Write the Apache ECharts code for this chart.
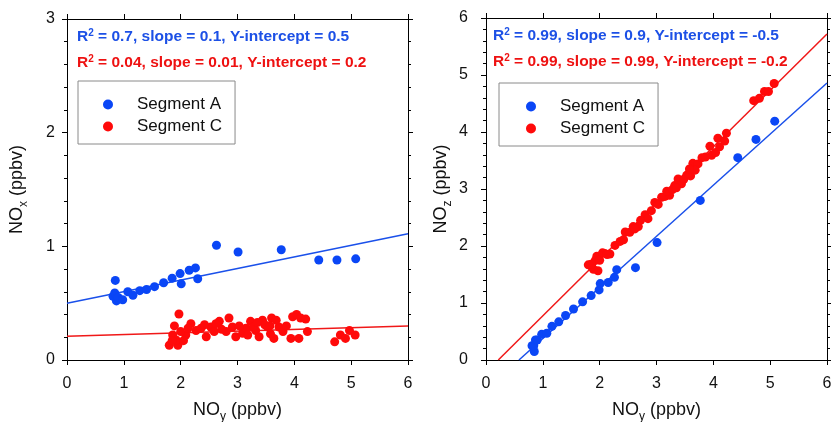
<!DOCTYPE html>
<html><head><meta charset="utf-8">
<script src="https://cdn.jsdelivr.net/npm/echarts@6/dist/echarts.min.js"></script>
<style>html,body{margin:0;padding:0;background:#fff}#c{width:831px;height:422px}</style>
</head><body><div id="c"></div>
<script>
// Segment A
const noyA = [0.85,0.81,0.84,0.87,0.90,0.98,1.07,1.16,1.28,1.40,1.54,1.70,1.85,1.99,2.01,2.15,2.26,2.30,2.63,3.01,3.77,4.43,4.75,5.08];
const noxA = [0.70,0.56,0.59,0.52,0.55,0.53,0.60,0.57,0.61,0.62,0.645,0.68,0.72,0.76,0.67,0.79,0.81,0.715,1.01,0.95,0.97,0.88,0.88,0.89];
const nozA = [0.15,0.25,0.25,0.35,0.35,0.45,0.47,0.59,0.67,0.78,0.895,1.02,1.13,1.23,1.34,1.36,1.45,1.585,1.62,2.06,2.80,3.55,3.87,4.19];
// Segment C
const noyC = [1.97,1.89,1.86,1.80,1.95,1.92,2.09,2.18,2.27,2.36,2.45,2.53,2.68,2.59,2.80,2.85,2.91,2.97,3.09,3.15,3.23,3.32,3.38,3.44,3.53,3.60,3.64,3.73,3.80,3.94,3.97,4.04,4.08,4.11,4.20,4.23,4.71,4.81,4.90,4.97,5.07,2.00,2.05,1.85,2.13,2.42,2.72,3.03,3.18,3.28,3.48,3.57,3.68,3.86,3.58,2.62,3.35];
const noxC = [0.405,0.30,0.22,0.13,0.13,0.176,0.22,0.32,0.26,0.28,0.205,0.29,0.34,0.25,0.25,0.37,0.29,0.205,0.235,0.28,0.34,0.26,0.205,0.35,0.29,0.37,0.19,0.29,0.25,0.19,0.38,0.40,0.19,0.37,0.36,0.25,0.16,0.22,0.19,0.26,0.22,0.25,0.17,0.17,0.28,0.31,0.27,0.30,0.22,0.29,0.31,0.30,0.35,0.30,0.23,0.32,0.33];
const nozC = [1.565,1.59,1.64,1.67,1.82,1.744,1.87,1.86,2.01,2.08,2.245,2.24,2.34,2.34,2.55,2.48,2.62,2.765,2.855,2.87,2.89,3.06,3.175,3.09,3.24,3.23,3.45,3.44,3.55,3.75,3.59,3.64,3.89,3.74,3.84,3.98,4.55,4.59,4.71,4.71,4.85,1.75,1.88,1.68,1.85,2.11,2.45,2.73,2.96,2.99,3.17,3.27,3.33,3.56,3.35,2.30,3.02];
// regression line end points
const fitNoxA = [[0,0.5],[6,1.11]];
const fitNoxC = [[0,0.21],[6,0.30]];
const fitNozA = [[0.58,0],[6,4.86]];
const fitNozC = [[0.216,0],[6,5.72]];
const seriesNames = ['Segment A','Segment C'];
const statsLeft = [['0.7','0.1','0.5'],['0.04','0.01','0.2']];
const statsRight = [['0.99','0.9','-0.5'],['0.99','0.99','-0.2']];

const FONT = "'Liberation Sans', Arial, sans-serif";
const BLUE = '#0a46f6', RED = '#ff0a0a';
const TBLUE = '#1c50e6', TRED = '#ee1111';
const pair = (xs, ys) => xs.map((x, i) => [x, ys[i]]);

const nameRich = {
  n: {fontSize: 18, lineHeight: 20, verticalAlign: 'top', fontFamily: FONT, color: '#111'},
  s: {fontSize: 12, lineHeight: 12, padding: [10,0,0,0], verticalAlign: 'top', fontFamily: FONT, color: '#111'}
};
function axisName(sub) { return '{n|NO}{s|' + sub + '}{n| (ppbv)}'; }

const lineStyle = {color: '#000', width: 1};
function xAxes(gi, sub) {
  return [
    {type: 'value', gridIndex: gi, min: 0, max: 6, interval: 1, position: 'bottom',
     axisLine: {show: true, onZero: false, lineStyle}, axisTick: {show: true, inside: false, length: 5, lineStyle},
     splitLine: {show: false},
     axisLabel: {fontSize: 16, color: '#111', fontFamily: FONT, margin: 16},
     name: axisName(sub), nameLocation: 'middle', nameGap: 41, nameTextStyle: {rich: nameRich}},
    {type: 'value', gridIndex: gi, min: 0, max: 6, interval: 1, position: 'top',
     axisLine: {show: true, onZero: false, lineStyle}, axisTick: {show: true, inside: false, length: 5, lineStyle},
     splitLine: {show: false}, axisLabel: {show: false}}
  ];
}
function yAxes(gi, max, sub, gap, margin) {
  return [
    {type: 'value', gridIndex: gi, min: 0, max: max, interval: 1, position: 'left',
     axisLine: {show: true, onZero: false, lineStyle}, axisTick: {show: true, inside: false, length: 5, lineStyle},
     minorTick: {show: true, splitNumber: 5, length: 3, lineStyle},
     splitLine: {show: false},
     axisLabel: {fontSize: 16, color: '#111', fontFamily: FONT, margin: margin},
     name: axisName(sub), nameLocation: 'middle', nameGap: gap, nameRotate: 90, nameTextStyle: {rich: nameRich}},
    {type: 'value', gridIndex: gi, min: 0, max: max, interval: 1, position: 'right',
     axisLine: {show: true, onZero: false, lineStyle}, axisTick: {show: true, inside: false, length: 5, lineStyle},
     minorTick: {show: true, splitNumber: 5, length: 3, lineStyle},
     splitLine: {show: false}, axisLabel: {show: false}}
  ];
}

function fit(name, xi, yi, data, color) {
  return {type: 'line', name: name, xAxisIndex: xi, yAxisIndex: yi, data: data, showSymbol: false,
    symbol: 'none', lineStyle: {color: color, width: 1.5}, clip: true, silent: true, z: 1};
}
function pts(name, xi, yi, data, color) {
  return {type: 'scatter', name: name, xAxisIndex: xi, yAxisIndex: yi, data: data, symbol: 'circle',
    symbolSize: 9, itemStyle: {color: color, opacity: 1}, z: 2};
}

const supRich = (color) => ({
  b: {fontSize: 15.5, fontWeight: 'bold', lineHeight: 18, verticalAlign: 'middle', fontFamily: FONT, fill: color},
  s: {fontSize: 10, fontWeight: 'bold', lineHeight: 10, verticalAlign: 'top', fontFamily: FONT, fill: color}
});
function statText(x, y, st, color) {
  return {type: 'text', left: x, top: y, silent: true,
    style: {text: '{b|R}{s|2}{b| = ' + st[0] + ', slope = ' + st[1] + ', Y-intercept = ' + st[2] + '}',
      fill: color, rich: supRich(color)}};
}

function legend(left, top, padLeft) {
  return {data: seriesNames, orient: 'vertical', left: left, top: top, icon: 'circle',
    itemWidth: 10, itemHeight: 10, itemGap: 5, padding: [15, 13, 9, padLeft],
    borderColor: '#8a8a8a', borderWidth: 1, backgroundColor: '#fff', selectedMode: false,
    textStyle: {fontSize: 17, color: '#111', fontFamily: FONT, lineHeight: 17, padding: [0, 0, 0, 19]}};
}

const option = {
  animation: false,
  backgroundColor: '#fff',
  textStyle: {fontFamily: FONT},
  grid: [
    {left: 67, top: 19, width: 341, height: 341, outerBoundsMode: 'none', containLabel: false},
    {left: 486, top: 18, width: 341, height: 342, outerBoundsMode: 'none', containLabel: false}
  ],
  xAxis: [...xAxes(0, 'y'), ...xAxes(1, 'y')],
  yAxis: [...yAxes(0, 3, 'x', 39, 12), ...yAxes(1, 6, 'z', 34, 18)],
  legend: [legend(78, 81, 25), legend(499, 83, 27)],
  series: [
    fit('fitA1', 0, 0, fitNoxA, '#1a50ea'),
    fit('fitC1', 0, 0, fitNoxC, '#f01818'),
    pts(seriesNames[0], 0, 0, pair(noyA, noxA), BLUE),
    pts(seriesNames[1], 0, 0, pair(noyC, noxC), RED),
    fit('fitA2', 2, 2, fitNozA, '#1a50ea'),
    fit('fitC2', 2, 2, fitNozC, '#f01818'),
    pts(seriesNames[0], 2, 2, pair(noyA, nozA), BLUE),
    pts(seriesNames[1], 2, 2, pair(noyC, nozC), RED)
  ],
  graphic: [
    statText(77, 28, statsLeft[0], TBLUE),
    statText(77, 54, statsLeft[1], TRED),
    statText(493, 27, statsRight[0], TBLUE),
    statText(493, 53, statsRight[1], TRED)
  ]
};
const chart = echarts.init(document.getElementById('c'), null, {renderer: 'canvas'});
chart.setOption(option);
</script></body></html>
